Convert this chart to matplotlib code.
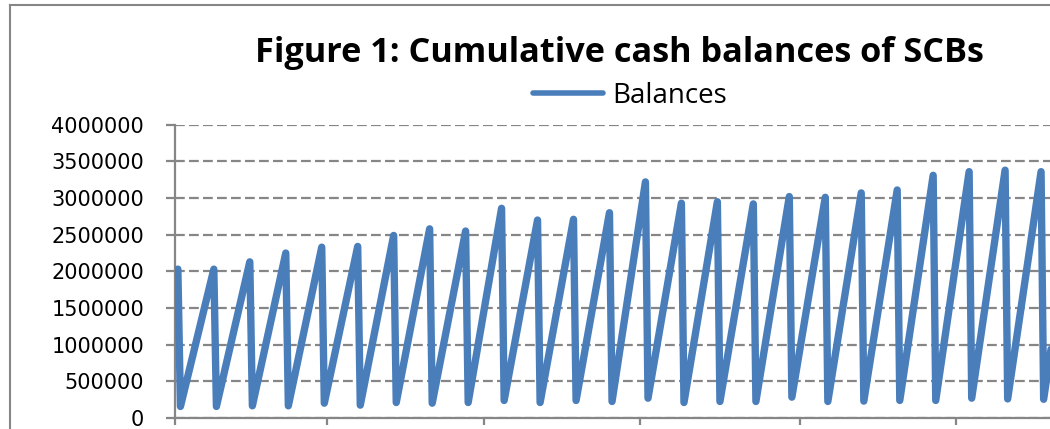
import matplotlib
matplotlib.use("Agg")
import matplotlib.pyplot as plt
import matplotlib.dates as mdates
from matplotlib.lines import Line2D
from matplotlib.ticker import FixedLocator, FixedFormatter, NullFormatter
import pandas as pd

# ---------------- data ----------------
title = "Figure 1: Cumulative cash balances of SCBs"
series_name = "Balances"

# cumulative balance on the last day of each reporting fortnight (peaks)
peak_values = [2030000, 2030000, 2130000, 2250000, 2330000, 2340000, 2490000,
               2580000, 2550000, 2860000, 2700000, 2710000, 2800000, 3220000,
               2930000, 2950000, 2920000, 3020000, 3010000, 3070000, 3110000,
               3310000, 3360000, 3380000, 3360000, 3350000]
# balance on the first day of the following fortnight (troughs)
trough_values = [157000, 157000, 166000, 166000, 202000, 175000, 211000,
                 202000, 211000, 239000, 211000, 239000, 225000, 270000,
                 211000, 225000, 225000, 284000, 225000, 230000, 239000,
                 239000, 270000, 260000, 255000]

first_fortnight_end = "2009-01-02"
axis_start = "2009-01-01"
axis_end = "2010-01-01"
ytick_values = [0, 500000, 1000000, 1500000, 2000000, 2500000, 3000000, 3500000, 4000000]
ytick_labels = [str(v) for v in ytick_values]

peak_dates = pd.date_range(first_fortnight_end, periods=len(peak_values), freq="14D")
trough_dates = peak_dates[:len(trough_values)] + pd.Timedelta(days=1)

dates, values = [], []
for i in range(len(peak_values)):
    dates.append(peak_dates[i]); values.append(peak_values[i])
    if i < len(trough_values):
        dates.append(trough_dates[i]); values.append(trough_values[i])

# ---------------- styling ----------------
W, H = 1050, 429
DPI = 100
blue = "#4A7EBB"
gray = "#868686"

fig = plt.figure(figsize=(W / DPI, H / DPI), dpi=DPI)
fig.patch.set_facecolor("white")

def fx(px):
    return px / W

def fy(py):
    return 1 - py / H

ax_left, ax_right_px = 175.3, 1113.0
ax_top, ax_bottom = 124.7, 418.0
ax = fig.add_axes([fx(ax_left), fy(ax_bottom), (ax_right_px - ax_left) / W,
                   (ax_bottom - ax_top) / H])
ax.set_facecolor("none")

ax.plot(dates, values, color=blue, lw=5.3, solid_joinstyle="round",
        solid_capstyle="round", zorder=3, label=series_name)

ax.set_xlim(pd.Timestamp(axis_start), pd.Timestamp(axis_end))
ax.set_ylim(ytick_values[0], ytick_values[-1])

ax.yaxis.set_major_locator(FixedLocator(ytick_values))
ax.yaxis.set_major_formatter(FixedFormatter(ytick_labels))
ax.xaxis.set_major_locator(mdates.MonthLocator(bymonth=[1, 3, 5, 7, 9, 11]))
ax.xaxis.set_major_formatter(NullFormatter())

ax.grid(axis="y", color=gray, lw=1.6, linestyle=(0, (4.4, 1.9)), zorder=1)
ax.set_axisbelow(True)

for s in ["top", "right"]:
    ax.spines[s].set_visible(False)
for s in ["left", "bottom"]:
    ax.spines[s].set_color(gray)
    ax.spines[s].set_linewidth(1.6)

ax.tick_params(axis="y", direction="out", length=6.5, width=1.6, color=gray,
               pad=16, labelsize=15, labelcolor="#000000")
ax.tick_params(axis="x", direction="out", length=5, width=1.6, color=gray)
for lab in ax.get_yticklabels():
    lab.set_fontfamily("DejaVu Sans")

# title
fig.text(fx(619), fy(61.7), title, ha="center", va="baseline",
         fontsize=24.7, fontweight="bold", family="Open Sans", color="#000000")

# legend
leg = fig.legend(loc="center", bbox_to_anchor=(fx(630), fy(96)), frameon=False,
                 handlelength=2.52, handletextpad=0.36,
                 borderpad=0, prop={"family": "Open Sans", "size": 20})
for h in leg.get_lines():
    h.set_linewidth(4.0)
    h.set_solid_capstyle("round")

# outer chart border (left and top visible)
fig.add_artist(Line2D([fx(10), fx(10)], [0, fy(5)], color=gray, lw=1.5,
                      transform=fig.transFigure))
fig.add_artist(Line2D([fx(10), 1.0], [fy(5), fy(5)], color=gray, lw=1.5,
                      transform=fig.transFigure))

fig.savefig("out.png", dpi=DPI)
